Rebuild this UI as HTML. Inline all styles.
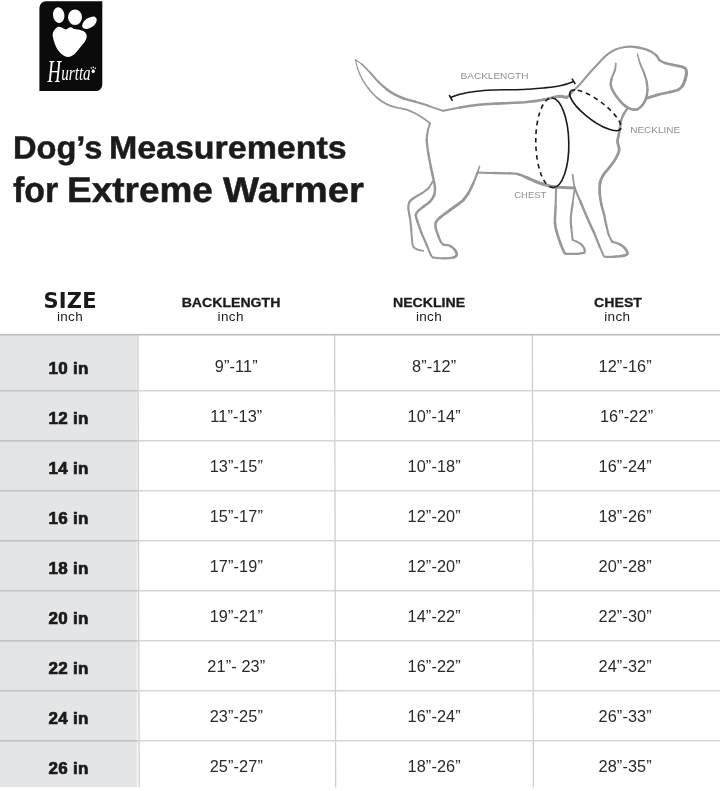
<!DOCTYPE html>
<html><head><meta charset="utf-8"><title>Dog's Measurements for Extreme Warmer</title>
<style>
html,body{margin:0;padding:0;background:#fff;}
body{width:720px;height:791px;position:relative;overflow:hidden;font-family:"Liberation Sans",sans-serif;color:#1d1d1b;}
.abs{position:absolute;white-space:nowrap;}
.t{position:absolute;width:300px;text-align:center;line-height:1;white-space:nowrap;}
.ttl{-webkit-text-stroke:0.5px #1c1b1b;position:absolute;margin:0;font-weight:bold;line-height:1;color:#1c1b1b;white-space:nowrap;transform-origin:0 0;}
.w{position:absolute;transform-origin:0 0;line-height:1;white-space:nowrap;}
.hb{font-weight:bold;color:#1a1a1a;transform:scaleX(1.085);-webkit-text-stroke:0.3px #1a1a1a;}
.hi{color:#202020;letter-spacing:0.35px;}
.sz{font-weight:bold;font-size:17px;color:#1a1a1a;letter-spacing:0.25px;-webkit-text-stroke:0.7px #1a1a1a;}
.v{font-size:16.3px;color:#2a2a2a;letter-spacing:0.12px;}
</style></head><body>
<svg class="abs" style="left:0;top:0" width="720" height="280" viewBox="0 0 720 280">
<defs><filter id="lb" x="-10%" y="-10%" width="120%" height="120%"><feGaussianBlur stdDeviation="0.45"/></filter></defs>
<path d="M45.9 1.3H102.3V84.6A6.5 6.5 0 0 1 95.8 91.1H39.4V7.8A6.5 6.5 0 0 1 45.9 1.3Z" fill="#0b0b0b"/>
<g fill="#fff" filter="url(#lb)"><path d="M57.2 27.2C55.7 28.1 53.3 31.0 52.8 33.3C52.2 35.6 53.2 38.5 53.9 41.1C54.6 43.7 55.8 46.7 57.2 48.9C58.6 51.1 60.4 53.1 62.2 54.4C64.0 55.7 66.0 56.8 67.8 56.9C69.6 57.0 71.4 56.3 73.3 55.0C75.2 53.7 77.1 51.0 78.9 48.9C80.8 46.8 83.1 44.2 84.4 42.2C85.7 40.2 86.6 38.4 86.7 36.7C86.8 35.0 86.1 33.3 85.0 32.2C83.9 31.1 81.8 30.5 80.0 30.0C78.2 29.5 76.0 29.6 74.4 29.1C72.8 28.6 72.1 27.1 70.6 27.2C69.1 27.2 67.1 29.3 65.6 29.4C64.1 29.5 63.1 28.0 61.7 27.6C60.3 27.2 58.7 26.2 57.2 27.2Z"/><ellipse cx="58.7" cy="15.1" rx="5.7" ry="7.9" transform="rotate(-8 58.7 15.1)"/><ellipse cx="75" cy="17.2" rx="7.0" ry="7.7"/><ellipse cx="89.5" cy="22.8" rx="8.2" ry="4.9" transform="rotate(-35 89.5 22.8)"/></g>
<g fill="#fff" font-family="Liberation Serif, serif" font-style="italic">
<text><tspan x="47.5" y="82" font-size="31" textLength="13.5" lengthAdjust="spacingAndGlyphs">H</tspan><tspan x="61.2" y="79.6" font-size="20" textLength="29.5" lengthAdjust="spacingAndGlyphs">urtta</tspan></text>
</g>
<g fill="#fff"><ellipse cx="93.2" cy="71.2" rx="1.6" ry="1.9"/><circle cx="91.3" cy="68" r="0.8"/><circle cx="93.3" cy="67.2" r="0.8"/><circle cx="95.3" cy="68.2" r="0.8"/></g>
<g fill="none" stroke="#98989a" stroke-linecap="round" stroke-linejoin="round">
<path d="M355.5 59.7C356.5 60.5 359.3 62.1 361.7 64.2" stroke-width="1.3"/>
<path d="M361.7 64.2C364.1 66.3 367.2 69.6 370.0 72.5" stroke-width="1.7"/>
<path d="M370.0 72.5C372.8 75.4 375.5 78.9 378.3 81.7" stroke-width="2.0"/>
<path d="M378.3 81.7C381.1 84.5 383.9 87.0 386.7 89.2" stroke-width="2.3"/>
<path d="M386.7 89.2C389.5 91.4 392.2 93.2 395.0 94.7C397.8 96.2 400.0 97.1 403.3 98.3" stroke-width="2.6"/>
<path d="M403.3 98.3C406.6 99.5 410.8 100.5 415.0 101.7" stroke-width="2.4"/>
<path d="M415.0 101.7C419.2 103.0 423.6 104.3 428.3 105.8" stroke-width="2.1"/>
<path d="M428.3 105.8C433.0 107.3 440.8 110.0 443.3 110.8" stroke-width="1.9"/>
<path d="M443.3 110.8C446.1 110.2 454.4 108.5 460.0 107.5" stroke-width="2.1"/>
<path d="M460.0 107.5C465.6 106.5 471.1 105.6 476.7 105.0C482.2 104.4 487.8 104.0 493.3 103.7" stroke-width="2.5"/>
<path d="M493.3 103.7C498.9 103.4 504.4 103.3 510.0 103.0C515.6 102.7 521.2 102.5 526.7 102.0C532.2 101.5 538.9 100.5 543.3 99.7" stroke-width="2.6"/>
<path d="M543.3 99.7C547.7 99.0 550.5 98.1 553.3 97.5" stroke-width="2.8"/>
<path d="M553.3 97.5C556.1 96.9 557.8 96.3 560.0 96.3" stroke-width="3.0"/>
<path d="M560.0 96.3C562.2 96.3 565.0 97.6 566.7 97.3" stroke-width="3.1"/>
<path d="M566.7 97.3C568.4 97.0 568.6 95.5 570.0 94.2" stroke-width="2.6"/>
<path d="M570.0 94.2C571.4 92.9 573.3 90.9 575.0 89.2C576.7 87.5 577.5 87.0 580.0 84.2C582.5 81.4 586.7 76.2 590.0 72.5C593.3 68.8 597.2 64.6 600.0 61.7C602.8 58.8 604.2 57.0 606.7 55.0" stroke-width="2.1"/>
<path d="M606.7 55.0C609.2 53.0 612.0 51.0 615.0 49.7C618.0 48.4 621.7 47.5 625.0 47.0C628.3 46.5 631.7 46.6 635.0 47.0" stroke-width="2.2"/>
<path d="M635.0 47.0C638.3 47.4 642.2 48.4 645.0 49.2C647.8 50.0 649.8 50.9 651.7 52.0C653.7 53.1 655.5 54.5 656.7 55.8" stroke-width="2.3"/>
<path d="M656.7 55.8C658.0 57.1 658.8 59.3 659.2 60.0" stroke-width="2.4"/>
<path d="M659.2 60.0C660.2 60.5 662.6 62.2 665.0 63.0" stroke-width="2.4"/>
<path d="M665.0 63.0C667.4 63.8 670.4 64.4 673.3 65.0" stroke-width="2.6"/>
<path d="M673.3 65.0C676.2 65.6 680.2 66.2 682.2 66.8" stroke-width="2.7"/>
<path d="M682.2 66.8C684.2 67.4 684.9 67.8 685.6 68.8" stroke-width="2.9"/>
<path d="M685.6 68.8C686.3 69.8 686.6 71.1 686.5 73.0" stroke-width="3.1"/>
<path d="M686.5 73.0C686.4 74.9 685.7 77.9 685.0 80.0" stroke-width="3.2"/>
<path d="M685.0 80.0C684.3 82.1 683.6 84.2 682.5 85.8" stroke-width="3.1"/>
<path d="M682.5 85.8C681.4 87.4 680.4 88.7 678.3 89.7C676.2 90.7 673.0 91.2 670.0 92.0" stroke-width="2.9"/>
<path d="M670.0 92.0C667.0 92.8 663.0 93.4 660.0 94.2C657.0 95.0 653.9 96.0 651.7 96.7C649.5 97.4 647.5 98.0 646.7 98.3" stroke-width="2.8"/>
<path d="M615.8 63.3C615.7 64.4 615.7 67.5 615.0 70.0" stroke-width="1.8"/>
<path d="M615.0 70.0C614.3 72.5 612.4 75.8 611.7 78.3" stroke-width="2.1"/>
<path d="M611.7 78.3C611.0 80.8 610.5 82.8 610.8 85.0" stroke-width="2.4"/>
<path d="M610.8 85.0C611.1 87.2 611.9 89.2 613.3 91.7" stroke-width="2.5"/>
<path d="M613.3 91.7C614.7 94.2 617.2 97.7 619.2 100.0C621.2 102.3 622.9 104.3 625.0 105.8" stroke-width="2.6"/>
<path d="M625.0 105.8C627.1 107.3 629.6 108.6 631.7 109.2C633.8 109.8 635.7 109.9 637.5 109.2C639.3 108.5 641.1 106.7 642.5 105.0" stroke-width="2.7"/>
<path d="M642.5 105.0C643.9 103.3 645.0 101.7 645.8 99.2" stroke-width="2.6"/>
<path d="M645.8 99.2C646.6 96.7 647.4 92.9 647.5 90.0" stroke-width="2.4"/>
<path d="M647.5 90.0C647.6 87.1 647.2 84.5 646.7 81.7" stroke-width="2.3"/>
<path d="M646.7 81.7C646.2 78.9 645.3 76.4 644.2 73.3" stroke-width="2.1"/>
<path d="M644.2 73.3C643.1 70.2 641.1 66.5 640.0 63.3" stroke-width="1.9"/>
<path d="M640.0 63.3C638.9 60.1 637.9 55.7 637.5 54.2" stroke-width="1.6"/>
<path d="M627.5 108.3C626.8 109.4 624.4 112.8 623.3 115.0" stroke-width="2.3"/>
<path d="M623.3 115.0C622.2 117.2 621.3 119.5 620.8 121.7" stroke-width="2.4"/>
<path d="M620.8 121.7C620.2 123.9 620.4 126.1 620.0 128.3" stroke-width="2.6"/>
<path d="M620.0 128.3C619.6 130.5 619.1 132.8 618.7 135.0" stroke-width="2.7"/>
<path d="M618.7 135.0C618.3 137.2 617.4 139.2 617.5 141.7C617.6 144.2 619.5 147.2 619.2 150.0C618.9 152.8 617.3 155.5 615.8 158.3C614.3 161.1 612.1 163.9 610.0 166.7C607.9 169.5 605.0 172.2 603.3 175.0" stroke-width="2.8"/>
<path d="M603.3 175.0C601.6 177.8 600.6 180.2 600.0 183.3" stroke-width="2.9"/>
<path d="M600.0 183.3C599.4 186.4 599.5 189.7 599.7 193.3" stroke-width="2.8"/>
<path d="M599.7 193.3C600.0 196.9 600.8 201.4 601.5 205.0" stroke-width="2.6"/>
<path d="M601.5 205.0C602.2 208.6 603.4 211.7 604.2 215.0" stroke-width="2.5"/>
<path d="M604.2 215.0C605.0 218.3 605.4 221.7 606.2 225.0" stroke-width="2.3"/>
<path d="M606.2 225.0C607.0 228.3 607.8 232.2 608.8 235.0" stroke-width="2.2"/>
<path d="M608.8 235.0C609.8 237.8 611.7 240.7 612.3 241.8" stroke-width="2.1"/>
<path d="M612.3 241.8C613.5 242.2 617.4 243.1 619.5 244.2" stroke-width="2.2"/>
<path d="M619.5 244.2C621.6 245.3 623.7 246.7 625.0 248.3" stroke-width="2.5"/>
<path d="M625.0 248.3C626.3 249.9 627.8 252.3 627.5 253.6C627.2 254.8 625.6 255.3 623.3 255.8" stroke-width="2.8"/>
<path d="M623.3 255.8C621.0 256.3 616.4 256.6 613.5 256.8" stroke-width="2.5"/>
<path d="M613.5 256.8C610.6 257.0 607.1 256.9 605.8 256.9" stroke-width="2.2"/>
<path d="M572.6 174.7C573.0 176.9 573.5 183.6 574.8 188.0" stroke-width="1.8"/>
<path d="M574.8 188.0C576.1 192.4 578.1 196.0 580.2 201.0" stroke-width="2.2"/>
<path d="M580.2 201.0C582.3 206.0 584.9 212.5 587.2 217.8C589.5 223.2 592.1 228.2 594.2 233.1" stroke-width="2.5"/>
<path d="M594.2 233.1C596.3 237.9 598.1 243.0 599.7 246.9" stroke-width="2.3"/>
<path d="M599.7 246.9C601.4 250.8 603.4 255.0 604.1 256.6" stroke-width="1.9"/>
<path d="M355.5 59.7C355.8 61.1 356.5 65.2 357.5 68.3" stroke-width="1.2"/>
<path d="M357.5 68.3C358.5 71.4 359.9 75.0 361.7 78.3" stroke-width="1.3"/>
<path d="M361.7 78.3C363.5 81.6 365.8 85.1 368.3 88.3" stroke-width="1.4"/>
<path d="M368.3 88.3C370.8 91.5 373.6 94.8 376.7 97.5" stroke-width="1.6"/>
<path d="M376.7 97.5C379.8 100.2 383.4 102.5 386.7 104.2" stroke-width="1.7"/>
<path d="M386.7 104.2C390.0 105.9 393.4 106.6 396.7 107.5C400.0 108.4 403.6 108.7 406.7 109.7C409.8 110.7 412.2 111.9 415.0 113.3C417.8 114.7 420.8 116.6 423.3 118.3C425.8 120.0 428.9 122.5 430.0 123.3" stroke-width="1.8"/>
<path d="M430.0 123.3C429.7 124.4 428.6 127.2 428.0 130.0" stroke-width="1.9"/>
<path d="M428.0 130.0C427.4 132.8 426.6 136.1 426.7 140.0" stroke-width="2.1"/>
<path d="M426.7 140.0C426.8 143.9 427.6 148.9 428.3 153.3" stroke-width="2.3"/>
<path d="M428.3 153.3C429.0 157.8 430.0 162.5 430.8 166.7" stroke-width="2.4"/>
<path d="M430.8 166.7C431.6 170.9 432.6 174.7 433.3 178.3C434.0 181.9 434.9 185.5 435.0 188.3C435.1 191.1 435.0 192.8 434.2 195.0" stroke-width="2.5"/>
<path d="M434.2 195.0C433.4 197.2 431.8 199.8 430.0 201.7C428.2 203.6 425.2 205.2 423.3 206.7" stroke-width="2.6"/>
<path d="M423.3 206.7C421.4 208.2 419.6 209.4 418.3 210.8C417.1 212.2 415.9 213.2 415.8 215.0" stroke-width="2.5"/>
<path d="M415.8 215.0C415.7 216.8 416.5 218.6 417.5 221.7" stroke-width="2.4"/>
<path d="M417.5 221.7C418.5 224.8 420.2 229.4 421.7 233.3" stroke-width="2.3"/>
<path d="M421.7 233.3C423.2 237.2 425.2 241.4 426.7 245.0" stroke-width="2.2"/>
<path d="M426.7 245.0C428.2 248.6 429.8 252.9 430.8 255.0" stroke-width="2.1"/>
<path d="M430.8 255.0C431.9 257.1 432.6 257.2 433.0 257.6" stroke-width="1.9"/>
<path d="M433.0 257.6C434.7 257.7 439.9 258.3 443.3 258.3" stroke-width="2.0"/>
<path d="M443.3 258.3C446.7 258.3 451.1 258.1 453.3 257.5" stroke-width="2.3"/>
<path d="M453.3 257.5C455.5 256.9 456.4 256.2 456.7 255.0C457.0 253.8 456.1 251.5 455.0 250.0" stroke-width="2.7"/>
<path d="M455.0 250.0C453.9 248.5 451.9 246.7 450.0 245.8" stroke-width="2.4"/>
<path d="M450.0 245.8C448.1 244.9 444.4 244.9 443.3 244.7" stroke-width="2.1"/>
<path d="M432.5 181.7C431.8 182.8 430.1 186.4 428.3 188.3" stroke-width="1.8"/>
<path d="M428.3 188.3C426.5 190.2 424.2 191.6 421.7 193.3" stroke-width="2.0"/>
<path d="M421.7 193.3C419.2 195.0 415.4 196.8 413.3 198.3" stroke-width="2.2"/>
<path d="M413.3 198.3C411.2 199.8 410.0 200.8 409.2 202.5" stroke-width="2.3"/>
<path d="M409.2 202.5C408.4 204.2 408.2 205.7 408.3 208.3C408.4 210.9 409.5 214.7 410.0 218.3" stroke-width="2.2"/>
<path d="M410.0 218.3C410.5 221.9 411.0 226.4 411.3 230.0" stroke-width="2.1"/>
<path d="M411.3 230.0C411.6 233.6 411.7 237.2 412.0 240.0" stroke-width="2.0"/>
<path d="M412.0 240.0C412.3 242.8 412.4 245.1 413.3 246.7C414.2 248.3 415.8 249.0 417.5 249.7" stroke-width="1.9"/>
<path d="M417.5 249.7C419.2 250.4 422.3 250.6 423.3 250.8" stroke-width="1.8"/>
<path d="M479.7 166.3C479.3 167.3 478.6 169.7 477.5 172.5" stroke-width="1.6"/>
<path d="M477.5 172.5C476.4 175.3 474.8 179.8 473.3 183.3" stroke-width="2.2"/>
<path d="M473.3 183.3C471.8 186.8 470.0 190.5 468.3 193.3" stroke-width="2.6"/>
<path d="M468.3 193.3C466.6 196.1 464.7 198.4 463.3 200.0" stroke-width="2.8"/>
<path d="M463.3 200.0C461.9 201.6 462.0 201.3 459.8 203.0C457.6 204.7 453.3 207.6 450.0 210.0" stroke-width="2.9"/>
<path d="M450.0 210.0C446.7 212.4 442.4 215.4 440.0 217.5" stroke-width="2.8"/>
<path d="M440.0 217.5C437.6 219.6 436.5 220.7 435.8 222.5" stroke-width="2.7"/>
<path d="M435.8 222.5C435.1 224.3 435.4 226.1 435.8 228.3" stroke-width="2.5"/>
<path d="M435.8 228.3C436.2 230.5 437.5 233.6 438.3 235.8" stroke-width="2.4"/>
<path d="M438.3 235.8C439.1 238.0 440.0 240.2 440.8 241.7" stroke-width="2.2"/>
<path d="M440.8 241.7C441.6 243.2 442.9 244.2 443.3 244.7" stroke-width="2.1"/>
<path d="M477.5 172.5C480.1 172.6 487.9 172.9 493.3 173.0" stroke-width="2.2"/>
<path d="M493.3 173.0C498.7 173.1 505.8 173.1 510.0 173.3" stroke-width="2.3"/>
<path d="M510.0 173.3C514.2 173.5 515.5 173.5 518.3 174.2" stroke-width="2.4"/>
<path d="M518.3 174.2C521.1 174.9 523.9 176.3 526.7 177.5" stroke-width="2.7"/>
<path d="M526.7 177.5C529.5 178.7 532.2 180.2 535.0 181.3" stroke-width="3.1"/>
<path d="M535.0 181.3C537.8 182.4 540.2 183.3 543.3 184.2" stroke-width="3.2"/>
<path d="M543.3 184.2C546.3 185.1 550.0 186.1 553.3 186.7" stroke-width="3.1"/>
<path d="M553.3 186.7C556.6 187.2 559.8 187.3 563.3 187.5" stroke-width="2.9"/>
<path d="M563.3 187.5C566.8 187.7 572.6 187.8 574.5 187.8" stroke-width="2.8"/>
<path d="M556.0 188.6C555.9 191.6 555.8 200.9 555.6 206.7" stroke-width="2.1"/>
<path d="M555.6 206.7C555.4 212.5 554.7 218.7 555.0 223.3" stroke-width="2.5"/>
<path d="M555.0 223.3C555.3 227.9 556.4 230.9 557.4 234.4C558.4 237.9 559.6 241.2 560.8 244.2" stroke-width="2.7"/>
<path d="M560.8 244.2C561.9 247.2 563.5 250.9 564.3 252.5" stroke-width="2.6"/>
<path d="M564.3 252.5C565.1 254.1 565.5 253.7 565.7 253.9" stroke-width="2.5"/>
<path d="M565.7 253.9C567.2 253.9 572.0 254.0 574.7 253.9C577.4 253.8 580.1 253.4 581.7 253.2C583.3 253.0 584.0 253.3 584.4 252.5C584.8 251.7 584.8 249.7 584.2 248.3" stroke-width="2.2"/>
<path d="M584.2 248.3C583.6 246.9 582.4 245.3 581.0 244.2" stroke-width="2.1"/>
<path d="M581.0 244.2C579.6 243.0 577.5 242.1 576.1 241.4" stroke-width="1.9"/>
<path d="M576.1 241.4C574.7 240.7 573.2 240.2 572.6 240.0" stroke-width="1.8"/>
<path d="M574.7 187.9C574.4 190.6 573.2 198.9 572.6 203.9" stroke-width="1.8"/>
<path d="M572.6 203.9C572.0 208.9 571.0 213.9 570.8 217.8C570.6 221.7 571.0 223.8 571.3 227.5" stroke-width="2.2"/>
<path d="M571.3 227.5C571.6 231.2 572.4 237.9 572.6 240.0" stroke-width="2.0"/>
</g>
<g fill="none" stroke="#1a1a1a" stroke-width="1.6" stroke-linecap="butt">
<path d="M450.8 97.5C452.3 97.0 455.7 95.2 460.0 94.2C464.3 93.2 471.1 92.0 476.7 91.3C482.2 90.6 487.8 90.3 493.3 90.0C498.9 89.7 504.4 89.8 510.0 89.7C515.6 89.6 521.2 89.5 526.7 89.2C532.2 88.9 537.8 88.6 543.3 88.0C548.8 87.4 554.9 86.9 560.0 85.8C565.1 84.7 571.5 82.2 573.8 81.5"/>
<path d="M449.2 95L452.5 100.8M572 78.7L575.3 84.2"/>
<path d="M551.5 98.0A44.8 16.5 -91.0 0 1 553.1 187.6"/>
<path d="M551.5 98.0A44.8 16.5 -91.0 0 0 553.1 187.6" stroke-dasharray="4.6 4" stroke-dashoffset="-2.5"/>
<path d="M575.0 89.9A31.3 9.9 37.0 1 0 620.9 128.1"/>
<path d="M575.0 89.9A31.3 9.9 37.0 0 1 620.9 128.1" stroke-dasharray="4.6 4" stroke-dashoffset="-3"/>
</g>
<g font-family="Liberation Sans, sans-serif" font-size="9" fill="#8f8f8f">
<text x="460.6" y="78.7" textLength="67.8" lengthAdjust="spacingAndGlyphs">BACKLENGTH</text>
<text x="630.2" y="132.8" textLength="50" lengthAdjust="spacingAndGlyphs">NECKLINE</text>
<text x="514.2" y="198" textLength="32.2" lengthAdjust="spacingAndGlyphs">CHEST</text>
</g>
</svg>
<h1 class="ttl" style="left:0;top:0;font-size:31.9px">
<span class="w" style="left:12.5px;top:132px;transform:translateY(0.5px) scaleX(1.0222) rotate(0.03deg)">Dog’s</span>
<span class="w" style="left:109.4px;top:132px;transform:translateY(0.5px) scaleX(1.064) rotate(0.03deg)">Measurements</span>
<span class="w" style="left:13.2px;top:173px;font-size:35.6px;transform:translateY(0px) scaleX(0.9540) rotate(0.03deg)">for</span>
<span class="w" style="left:67.1px;top:173px;font-size:35.6px;transform:translateY(0px) scaleX(1.0390) rotate(0.03deg)">Extreme</span>
<span class="w" style="left:223px;top:173px;font-size:35.6px;transform:translateY(0px) scaleX(1.074) rotate(0.03deg)">Warmer</span>
</h1>
<div class="t" style="left:-79.9px;top:290.7px;font-size:21px;font-weight:bold;font-family:'DejaVu Sans','Liberation Sans',sans-serif;color:#1a1a1a;letter-spacing:0.2px">SIZE</div>
<div class="t hi" style="left:-80px;top:310px;font-size:13.5px">inch</div>
<div class="t hb" style="left:80.8px;top:295.7px;font-size:13px">BACKLENGTH</div>
<div class="t hi" style="left:80.7px;top:310px;font-size:13.5px">inch</div>
<div class="t hb" style="left:279.2px;top:295.7px;font-size:13px">NECKLINE</div>
<div class="t hi" style="left:279px;top:310px;font-size:13.5px">inch</div>
<div class="t hb" style="left:468px;top:295.7px;font-size:13px">CHEST</div>
<div class="t hi" style="left:467.3px;top:310px;font-size:13.5px">inch</div>
<svg class="abs" style="left:0;top:330px" width="720" height="461" viewBox="0 330 720 461">
<rect x="0" y="335" width="136.8" height="452.2" fill="#e4e5e7"/>
<rect x="136.8" y="335" width="0.9" height="452.2" fill="#eeeef0"/>
<line x1="137.9" y1="335" x2="139.2" y2="787.6" stroke="#cdcdcf" stroke-width="1.25"/>
<line x1="334.6" y1="335" x2="335.7" y2="787.6" stroke="#cdcdcf" stroke-width="1.25"/>
<line x1="532.4" y1="335" x2="533.4" y2="787.6" stroke="#cdcdcf" stroke-width="1.25"/>
<rect x="0" y="333.9" width="720" height="1.6" fill="#bcbcbd"/>
<rect x="0" y="390.05" width="720" height="1.4" fill="#d3d3d4"/>
<rect x="0" y="390.05" width="137.5" height="1.4" fill="#c2c3c5"/>
<rect x="0" y="440.05" width="720" height="1.4" fill="#d3d3d4"/>
<rect x="0" y="440.05" width="137.5" height="1.4" fill="#c2c3c5"/>
<rect x="0" y="490.05" width="720" height="1.4" fill="#d3d3d4"/>
<rect x="0" y="490.05" width="137.5" height="1.4" fill="#c2c3c5"/>
<rect x="0" y="540.05" width="720" height="1.4" fill="#d3d3d4"/>
<rect x="0" y="540.05" width="137.5" height="1.4" fill="#c2c3c5"/>
<rect x="0" y="590.05" width="720" height="1.4" fill="#d3d3d4"/>
<rect x="0" y="590.05" width="137.5" height="1.4" fill="#c2c3c5"/>
<rect x="0" y="640.05" width="720" height="1.4" fill="#d3d3d4"/>
<rect x="0" y="640.05" width="137.5" height="1.4" fill="#c2c3c5"/>
<rect x="0" y="690.05" width="720" height="1.4" fill="#d3d3d4"/>
<rect x="0" y="690.05" width="137.5" height="1.4" fill="#c2c3c5"/>
<rect x="0" y="740.05" width="720" height="1.4" fill="#d3d3d4"/>
<rect x="0" y="740.05" width="137.5" height="1.4" fill="#c2c3c5"/>
</svg>
<div class="t sz" style="left:-81.40px;top:360px">10 in</div>
<div class="t v" style="left:86.30px;top:358px">9”-11”</div>
<div class="t v" style="left:284.20px;top:358px">8”-12”</div>
<div class="t v" style="left:475.20px;top:358px">12”-16”</div>
<div class="t sz" style="left:-81.40px;top:410px">12 in</div>
<div class="t v" style="left:86.30px;top:408px">11”-13”</div>
<div class="t v" style="left:284.20px;top:408px">10”-14”</div>
<div class="t v" style="left:476.60px;top:408px">16”-22”</div>
<div class="t sz" style="left:-81.40px;top:460px">14 in</div>
<div class="t v" style="left:86.30px;top:458px">13”-15”</div>
<div class="t v" style="left:284.20px;top:458px">10”-18”</div>
<div class="t v" style="left:475.20px;top:458px">16”-24”</div>
<div class="t sz" style="left:-81.40px;top:510px">16 in</div>
<div class="t v" style="left:86.30px;top:508px">15”-17”</div>
<div class="t v" style="left:284.20px;top:508px">12”-20”</div>
<div class="t v" style="left:475.20px;top:508px">18”-26”</div>
<div class="t sz" style="left:-81.40px;top:560px">18 in</div>
<div class="t v" style="left:86.30px;top:558px">17”-19”</div>
<div class="t v" style="left:284.20px;top:558px">12”-20”</div>
<div class="t v" style="left:475.20px;top:558px">20”-28”</div>
<div class="t sz" style="left:-81.40px;top:610px">20 in</div>
<div class="t v" style="left:86.30px;top:608px">19”-21”</div>
<div class="t v" style="left:284.20px;top:608px">14”-22”</div>
<div class="t v" style="left:475.20px;top:608px">22”-30”</div>
<div class="t sz" style="left:-81.40px;top:660px">22 in</div>
<div class="t v" style="left:86.30px;top:658px">21”- 23”</div>
<div class="t v" style="left:284.20px;top:658px">16”-22”</div>
<div class="t v" style="left:475.20px;top:658px">24”-32”</div>
<div class="t sz" style="left:-81.40px;top:710px">24 in</div>
<div class="t v" style="left:86.30px;top:708px">23”-25”</div>
<div class="t v" style="left:284.20px;top:708px">16”-24”</div>
<div class="t v" style="left:475.20px;top:708px">26”-33”</div>
<div class="t sz" style="left:-81.40px;top:760px">26 in</div>
<div class="t v" style="left:86.30px;top:758px">25”-27”</div>
<div class="t v" style="left:284.20px;top:758px">18”-26”</div>
<div class="t v" style="left:475.20px;top:758px">28”-35”</div>
</body></html>
